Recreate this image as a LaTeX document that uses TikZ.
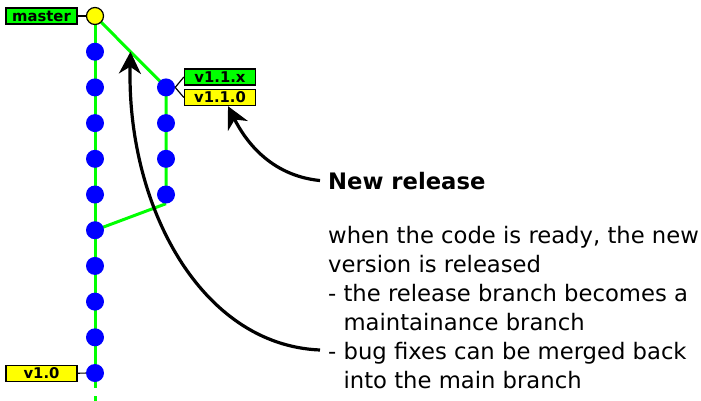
\documentclass[tikz,border=0pt]{standalone}
\usepackage{fontspec}
\setmainfont{DejaVu Sans}
\usetikzlibrary{arrows.meta,backgrounds,calc}
\definecolor{gitgreen}{HTML}{00FF00}
\definecolor{gitblue}{HTML}{0000FF}
\definecolor{gityellow}{HTML}{FFFF00}
\tikzset{
  commit/.style={circle,fill=gitblue,minimum size=18pt,inner sep=0pt},
  head/.style={circle,draw=black,line width=1.2pt,fill=gityellow,minimum size=17pt,inner sep=0pt},
  tag/.style={draw=black,line width=1.3pt,minimum width=71pt,minimum height=16pt,inner sep=0pt,
    font=\fontsize{14.8}{14.8}\selectfont\bfseries},
  branch/.style={gitgreen,line width=3pt},
  pointer/.style={-{Stealth[length=22pt,width=22pt,inset=7pt]},line width=3.2pt},
}

\begin{document}
\begin{tikzpicture}[x=1pt,y=-1pt]
    \useasboundingbox (0,0) rectangle (701,400);
    % commits
    \node[head] (master) at (95,16) {};
    \foreach \i in {1,...,10} {\node[commit] (m\i) at (95,{16+35.7*\i}) {};}
    \foreach \i in {1,...,4} {\node[commit] (b\i) at (166,{16+35.7*(\i+1)}) {};}
    % tags
    \node[tag,fill=gitgreen] (mastertag) at (41.5,16) {master};
    \node[tag,fill=gitgreen] (v11x) at (220,77) {v1.1.x};
    \node[tag,fill=gityellow] (v110) at (220,97.5) {v1.1.0};
    \node[tag,fill=gityellow] (v10) at (41.5,373.5) {v1.0};
    \draw[line width=1.2pt] (mastertag) -- (master);
    \draw[line width=1.2pt] (v10) -- (m10);
    \draw[line width=1.2pt] (b1.east) -- (v11x.west);
    \draw[line width=1.2pt] (b1.east) -- (v110.west);
    % branches
    \begin{scope}[on background layer]
      \draw[branch] (master.center) -- (m10.center);
      \draw[branch,dash pattern=on 15pt off 8pt] (m10.center) -- (95,404);
      \draw[branch] (master.center) -- (b1.center) -- (b4.center);
      \draw[branch] (b4.south) -- (m6.center);
    \end{scope}
    % notes
    \node[anchor=base west,inner sep=0pt,font=\fontsize{22.7}{29}\selectfont\bfseries] (title) at (328,189) {New release};
    \node[anchor=north west,inner sep=0pt,align=left,font=\fontsize{22.7}{29}\selectfont] (notes) at (328,226)
      {when the code is ready, the new\\version is released\\- the release branch becomes a\\\phantom{- }maintainance branch\\- bug fixes can be merged back\\\phantom{- }into the main branch};
    \coordinate (bugfix) at (320,350);
    \draw[pointer] ([xshift=-8pt]title.west) .. controls +(-50,-5) and +(17,34) .. ([xshift=8pt]v110.south);
    \draw[pointer] (bugfix) .. controls +(-120,-5) and +(-4,153) .. ($(master)!0.5!(b1)$);
  \end{tikzpicture}
\end{document}
